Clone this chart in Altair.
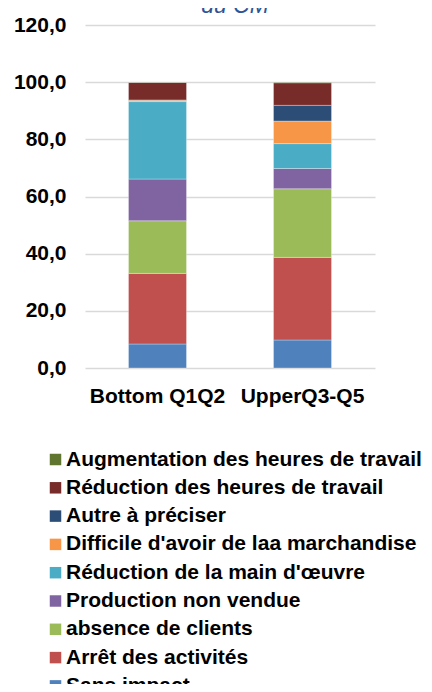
import altair as alt
import pandas as pd

groups = ["Bottom Q1Q2", "UpperQ3-Q5"]
# stacking order: bottom to top
categories = [
    "Sans impact",
    "Arrêt des activités",
    "absence de clients",
    "Production non vendue",
    "Réduction de la main d'œuvre",
    "Difficile d'avoir de laa marchandise",
    "Autre à préciser",
    "Réduction des heures de travail",
    "Augmentation des heures de travail",
]
colors = ["#4F81BD", "#C0504D", "#9BBB59", "#8064A2", "#4BACC6",
          "#F79646", "#2C4D75", "#772C2A", "#5F7530"]
bottom_values = [8.4, 24.7, 18.4, 14.6, 27.1, 0.5, 0.1, 6.1, 0.1]
upper_values = [9.8, 28.9, 24.0, 7.1, 8.7, 7.9, 5.5, 7.9, 0.2]
y_ticks = [0, 20, 40, 60, 80, 100, 120]
title_text = ["du CM"]

rows = []
for i, c in enumerate(categories):
    rows.append({"groupe": groups[0], "cat": c, "val": bottom_values[i], "ord": i})
    rows.append({"groupe": groups[1], "cat": c, "val": upper_values[i], "ord": i})
df = pd.DataFrame(rows)

FONT = "Liberation Sans"

bars = alt.Chart(df).mark_bar(stroke="white", strokeWidth=0.6, strokeOpacity=0.5).encode(
    x=alt.X("groupe:N", sort=groups, title=None,
            scale=alt.Scale(paddingInner=0.6, paddingOuter=0.3),
            axis=alt.Axis(labelAngle=0, domain=False, ticks=False, grid=False,
                          labelFont=FONT, labelFontSize=21, labelFontWeight="bold",
                          labelColor="#000000", labelPadding=17)),
    y=alt.Y("val:Q", stack="zero", title=None,
            scale=alt.Scale(domain=[0, 120], nice=False),
            axis=alt.Axis(values=y_ticks, domain=False, ticks=False, grid=True,
                          gridColor="#D9D9D9", gridWidth=1.5,
                          labelExpr="replace(format(datum.value, '.1f'), '.', ',')",
                          labelFont=FONT, labelFontSize=21, labelFontWeight="bold",
                          labelColor="#000000", labelPadding=19)),
    color=alt.Color("cat:N",
                    scale=alt.Scale(domain=categories[::-1], range=colors[::-1]),
                    legend=alt.Legend(title=None, orient="none", legendX=-40, legendY=424,
                                      direction="vertical", symbolType="square",
                                      symbolSize=132, symbolStrokeWidth=0,
                                      labelFont=FONT, labelFontSize=21,
                                      labelFontWeight="bold", labelColor="#000000",
                                      labelOffset=0, rowPadding=6.3, padding=0,
                                      labelLimit=500)),
    order=alt.Order("ord:Q", sort="ascending"),
)

title_df = pd.DataFrame({"t": title_text})
title = alt.Chart(title_df).mark_text(
    font=FONT, fontSize=23, fontStyle="italic", color="#2F5496",
    align="center", baseline="alphabetic",
).encode(text="t:N", x=alt.value(150), y=alt.value(-12.5))

chart = alt.layer(bars, title).properties(
    width=290, height=343,
    autosize=alt.AutoSizeParams(type="none"),
    padding={"left": 77, "top": 17, "right": 49, "bottom": 316},
).configure_view(stroke=None)

chart.save("out.html", embed_options={"renderer": "svg", "actions": False})
